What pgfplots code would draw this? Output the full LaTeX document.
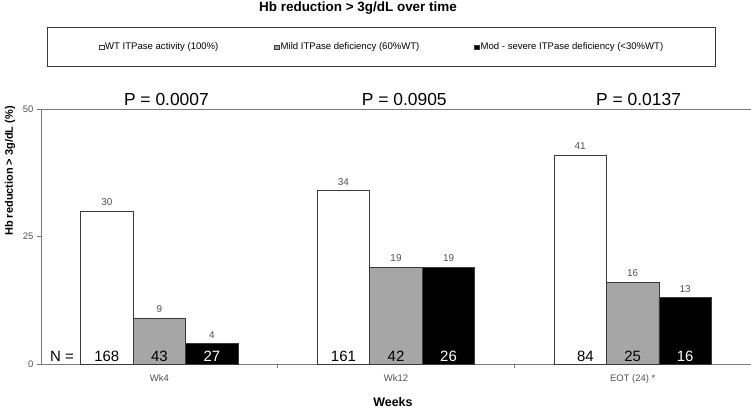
\documentclass[border=0pt]{standalone}
\usepackage{pgfplots}
\pgfplotsset{compat=1.18}
\usepackage{fontspec}
\setmainfont{Liberation Sans}
\definecolor{bargray}{HTML}{A6A6A6}
\definecolor{edge}{HTML}{3A3A3A}
\definecolor{axisgray}{HTML}{7A7A7A}
\definecolor{txtgray}{HTML}{505050}
\begin{document}
\begin{tikzpicture}
\begin{axis}[
  at={(41bp,44bp)}, anchor=south west,
  scale only axis, width=710bp, height=255bp,
  xmin=-0.5, xmax=2.5, ymin=0, ymax=50,
  axis lines=left, axis line style={-, draw=axisgray, line width=0.8pt},
  ytick={0,25,50},
  xtick={0.5,1.5}, xticklabels={},
  extra x ticks={0,1,2}, extra x tick labels={Wk4,Wk12,EOT (24) *},
  extra x tick style={major tick length=0pt},
  tick align=outside, major tick length=4bp,
  tick style={draw=axisgray, line width=0.8pt},
  ticklabel style={font=\fontsize{9.5}{11}\selectfont, text=txtgray},
  xticklabel style={yshift=-7bp},
  /pgf/number format/assume math mode=true,
  xlabel={Weeks},
  every axis x label/.style={at={(axis cs:0.987,0)}, yshift=-38bp, anchor=center, font=\bfseries\fontsize{12.5}{14}\selectfont},
  ylabel={Hb reduction > 3g/dL (\%)},
  every axis y label/.style={at={(rel axis cs:0,0.757)}, xshift=-31bp, rotate=90, anchor=center, font=\bfseries\fontsize{11}{13}\selectfont},
  clip=false,
  nodes near coords,
  every node near coord/.append style={font=\fontsize{10}{11}\selectfont, text=txtgray, inner sep=5bp, anchor=south},
]
\addplot[ybar, bar width=0.222, bar shift=0, fill=white, draw=edge, line width=0.7pt] coordinates {(-0.222,30) (0.778,34) (1.778,41)};
\addplot[ybar, bar width=0.222, bar shift=0, fill=bargray, draw=edge, line width=0.7pt] coordinates {(0,9) (1,19) (2,16)};
\addplot[ybar, bar width=0.222, bar shift=0, fill=black, draw=edge, line width=0.7pt] coordinates {(0.222,4) (1.222,19) (2.222,13)};
\draw[axisgray, line width=0.8pt] (rel axis cs:0,1) -- (rel axis cs:1,1);
% N labels
\begin{scope}[every node/.style={anchor=south, inner sep=2bp, font=\fontsize{15}{17}\selectfont}]
\node at (axis cs:-0.411,0) {N =};
\node at (axis cs:-0.222,0) {168};
\node at (axis cs:0,0) {43};
\node[text=white] at (axis cs:0.222,0) {27};
\node at (axis cs:0.778,0) {161};
\node at (axis cs:1,0) {42};
\node[text=white] at (axis cs:1.222,0) {26};
\node at (axis cs:1.80,0) {84};
\node at (axis cs:2,0) {25};
\node[text=white] at (axis cs:2.222,0) {16};
\end{scope}
% P values
\begin{scope}[every node/.style={anchor=base, inner sep=0pt, font=\fontsize{17.5}{20}\selectfont, yshift=4bp}]
\node at (axis cs:0.03,50) {P = 0.0007};
\node at (axis cs:1.035,50) {P = 0.0905};
\node at (axis cs:2.025,50) {P = 0.0137};
\end{scope}
\end{axis}
% title
\node[font=\bfseries\fontsize{13.5}{16}\selectfont, anchor=center] at (358bp,400bp) {Hb reduction > 3g/dL over time};
% legend
\draw[edge, line width=0.8pt] (47bp,342bp) rectangle (715bp,381bp);
\begin{scope}[every node/.style={anchor=west, inner sep=0pt, font=\fontsize{9.6}{11}\selectfont}]
\draw[edge, line width=0.5pt, fill=white] (99.5bp,358.5bp) rectangle (104bp,363bp);
\node at (105bp,361bp) {WT ITPase activity (100\%)};
\draw[edge, line width=0.5pt, fill=bargray] (274.5bp,358.5bp) rectangle (279bp,363bp);
\node at (280.5bp,361bp) {Mild ITPase deficiency (60\%WT)};
\draw[edge, line width=0.5pt, fill=black] (474.5bp,358.5bp) rectangle (479bp,363bp);
\node at (480.5bp,361bp) {Mod - severe ITPase deficiency (<30\%WT)};
\end{scope}
\pgfresetboundingbox
\path (0,0) rectangle (751bp,408bp);
\end{tikzpicture}
\end{document}
